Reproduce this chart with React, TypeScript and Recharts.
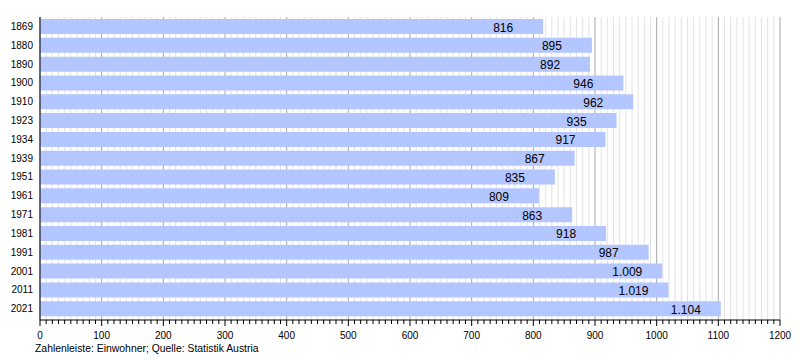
import { Bar, BarChart, CartesianGrid, LabelList, XAxis, YAxis } from "recharts";

const years = ["1869", "1880", "1890", "1900", "1910", "1923", "1934", "1939", "1951", "1961", "1971", "1981", "1991", "2001", "2011", "2021"];
const population = [816, 895, 892, 946, 962, 935, 917, 867, 835, 809, 863, 918, 987, 1009, 1019, 1104];
const xTicks = Array.from({ length: 121 }, (_, i) => i * 10);

const data = years.map((year, i) => ({ year, value: population[i] }));

const BAR_COLOR = "#b3c6ff";
const FONT = "'Liberation Sans', Arial, sans-serif";

// German thousands separator: 1104 -> 1.104
const formatDe = (v: number) => String(v).replace(/\B(?=(\d{3})+(?!\d))/g, ".");

function XTick(props: any) {
  const { x, y, payload } = props;
  const major = payload.value % 100 === 0;
  return (
    <g>
      <line x1={x} x2={x} y1={y} y2={y + (major ? 6 : 4)} stroke="#000" strokeWidth={1} />
      {major && (
        <text x={x} y={y + 19} textAnchor="middle" fontSize={10} fontFamily={FONT} fill="#000">
          {payload.value}
        </text>
      )}
    </g>
  );
}

function GridLine(props: any) {
  const { x1, x2, y1, y2, index } = props;
  const major = index % 10 === 0;
  return (
    <line
      key={`g-${index}`}
      x1={x1}
      x2={x2}
      y1={y1}
      y2={y2}
      stroke={major ? "#a8a8a8" : "#e2e2e2"}
      strokeWidth={1}
    />
  );
}

function ValueLabel(props: any) {
  const { x, y, width, height, value } = props;
  return (
    <text x={x + width - 50} y={y + height / 2 + 5} fontSize={12} fontFamily={FONT} fill="#000">
      {formatDe(value)}
    </text>
  );
}

export default function App() {
  return (
    <div style={{ position: "absolute", left: 0, top: 0, width: 800, height: 360, background: "#fff" }}>
      <BarChart
        width={800}
        height={360}
        data={data}
        layout="vertical"
        barCategoryGap={0}
        margin={{ top: 17, right: 20, left: 0, bottom: 10 }}
      >
        <CartesianGrid horizontal={false} vertical={GridLine} />
        <XAxis
          type="number"
          domain={[0, 1200]}
          ticks={xTicks}
          interval={0}
          height={30}
          tickSize={0}
          tickMargin={0}
          tickLine={false}
          axisLine={{ stroke: "#000" }}
          tick={<XTick />}
        />
        <YAxis
          type="category"
          dataKey="year"
          width={40}
          tickLine={false}
          tickSize={0}
          tickMargin={7}
          padding={{ top: 0, bottom: 2 }}
          axisLine={{ stroke: "#000" }}
          tick={{ fontSize: 10, fontFamily: FONT, fill: "#000" }}
        />
        <Bar dataKey="value" fill={BAR_COLOR} barSize={15} isAnimationActive={false}>
          <LabelList dataKey="value" content={<ValueLabel />} />
        </Bar>
      </BarChart>
      <div
        style={{
          position: "absolute",
          left: 35,
          top: 343,
          fontSize: 10.4,
          fontFamily: FONT,
          color: "#000",
          whiteSpace: "nowrap",
        }}
      >
        Zahlenleiste: Einwohner; Quelle: Statistik Austria
      </div>
    </div>
  );
}
